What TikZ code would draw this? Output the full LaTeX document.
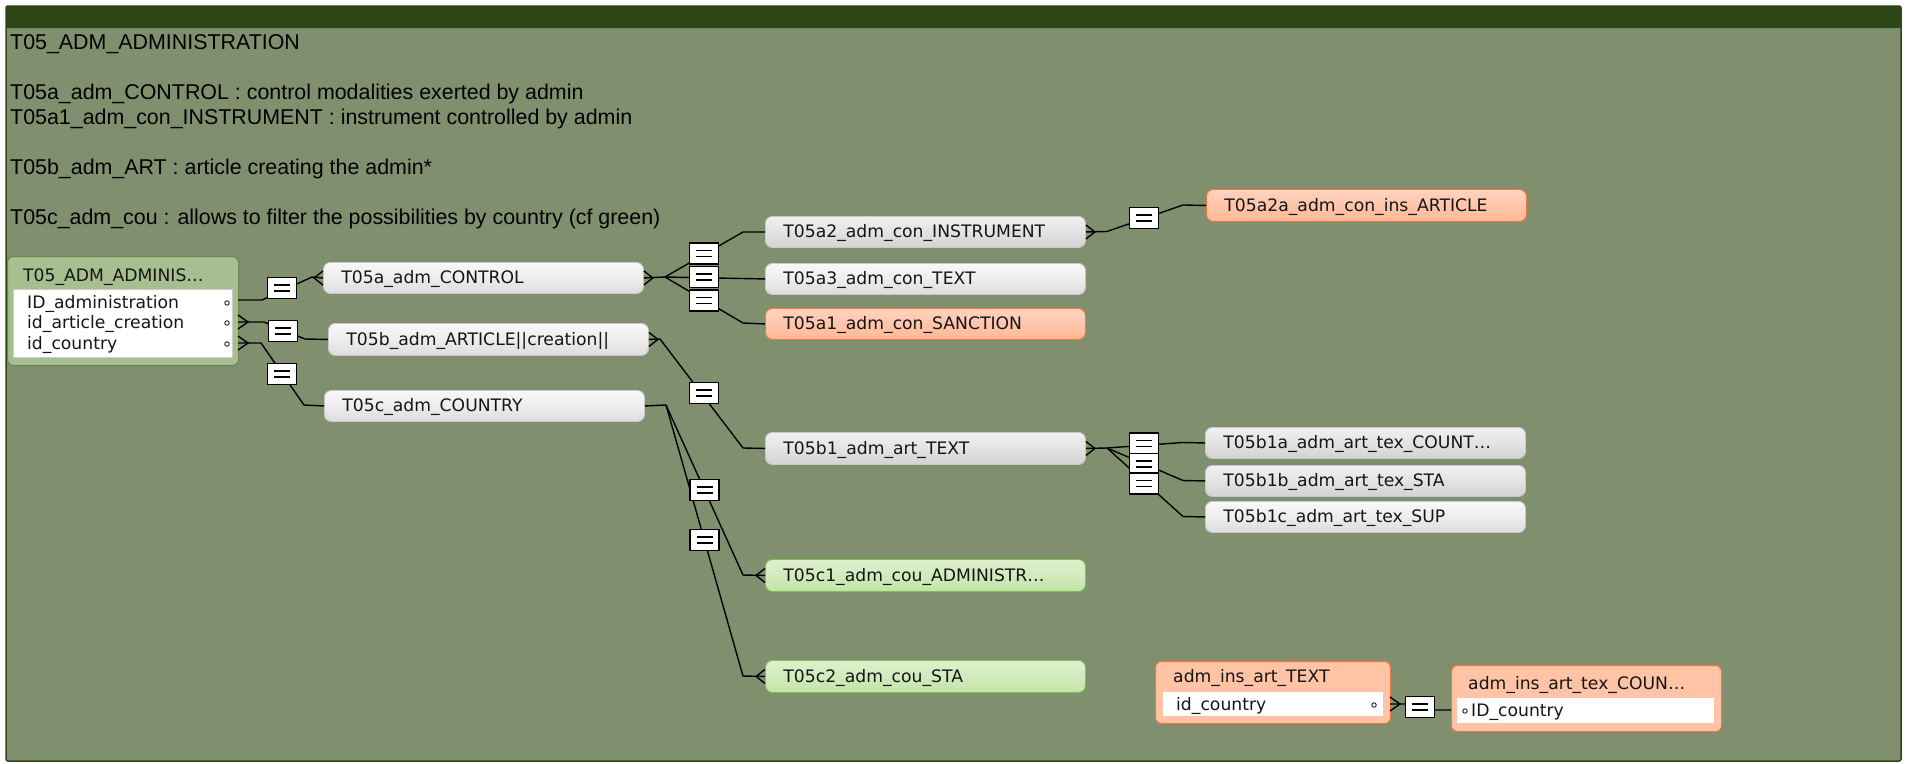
\documentclass[tikz,border=0pt]{standalone}
\usepackage{fontspec}
\setmainfont{Liberation Sans}
\newfontfamily\entfont{DejaVu Sans}
\definecolor{frameBg}{HTML}{80906F}
\definecolor{frameDk}{HTML}{2C4715}
\definecolor{greyTop}{HTML}{F8F8F8}
\definecolor{greyMid}{HTML}{EDEDED}
\definecolor{greyBot}{HTML}{DCDCDC}
\definecolor{greyTopB}{HTML}{F0F0F0}
\definecolor{greyMidB}{HTML}{E3E3E3}
\definecolor{greyBotB}{HTML}{D2D2D2}
\definecolor{greyLine}{HTML}{C8C8C8}
\definecolor{orTop}{HTML}{FFD3BF}
\definecolor{orMid}{HTML}{FFC5AA}
\definecolor{orBot}{HTML}{FFB896}
\definecolor{orLine}{HTML}{F2773E}
\definecolor{orFill}{HTML}{FFC3A6}
\definecolor{grTop}{HTML}{DDF0CD}
\definecolor{grMid}{HTML}{D1EBBC}
\definecolor{grBot}{HTML}{C3E3A8}
\definecolor{grLine}{HTML}{7FC04F}
\definecolor{admFill}{HTML}{A7BE90}
\definecolor{admLine}{HTML}{6A8752}
\definecolor{txtc}{HTML}{151515}
\newcommand\crowAt[2]{\draw[conn] ([yshift=7pt]#1) -- ([xshift=#2]#1) -- ([yshift=-7pt]#1);}
\begin{document}
\begin{tikzpicture}[x=1pt,y=-1pt,
  conn/.style={draw=black, line width=1.4pt},
  ent/.style={rounded corners=7pt, line width=0.9pt, anchor=north west,
    minimum width=320pt, minimum height=31pt, text width=284pt, inner xsep=18pt,
    inner ysep=0pt, align=left, text height=12pt, text depth=0pt, text=txtc,
    font=\entfont\fontsize{17.2}{20}\selectfont},
  greyent/.style={ent, top color=greyTop, bottom color=greyBot, middle color=greyMid, draw=greyLine},
  greyentB/.style={ent, top color=greyTopB, bottom color=greyBotB, middle color=greyMidB, draw=greyLine},
  orent/.style={ent, top color=orTop, bottom color=orBot, middle color=orMid, draw=orLine},
  grent/.style={ent, top color=grTop, bottom color=grBot, middle color=grMid, draw=grLine},
  tlabel/.style={anchor=base west, inner sep=0pt, text=txtc, font=\entfont\fontsize{17.2}{20}\selectfont},
  toptext/.style={anchor=base west, inner sep=0pt, text=black, font=\fontsize{21.4}{24.6}\selectfont},
  keydot/.style={circle, draw=black, line width=0.8pt, fill=white, inner sep=0pt, minimum size=4.5pt},
  eqbox/.style={draw=black, line width=1.2pt, fill=white, minimum width=29pt, minimum height=21pt, inner sep=0pt,
    path picture={\draw[line width=1.5pt]
      ([xshift=-8pt,yshift=3.2pt]path picture bounding box.center) -- ++(16pt,0pt)
      ([xshift=-8pt,yshift=-3.2pt]path picture bounding box.center) -- ++(16pt,0pt);}}
]
\useasboundingbox (0,0) rectangle (1910,763);
% frame
\draw[frameDk, line width=1.5pt, fill=frameBg, rounded corners=2pt] (6,6) rectangle (1901,761);
\fill[frameDk, rounded corners=2pt] (6,6) rectangle (1901,28);
% top texts
\node[toptext] (t1) at (10,49) {T05\_ADM\_ADMINISTRATION};
\node[toptext] (t2) at (10,99) {T05a\_adm\_CONTROL : control modalities exerted by admin};
\node[toptext] (t3) at (10,124) {T05a1\_adm\_con\_INSTRUMENT : instrument controlled by admin};
\node[toptext] (t4) at (10,174) {T05b\_adm\_ART : article creating the admin*};
\node[toptext] (t5) at (10,224) {T05c\_adm\_cou : allows to filter the possibilities by country (cf green)};
% admin table
\node[draw=admLine, fill=admFill, rounded corners=6pt, line width=1pt, anchor=north west,
  minimum width=231pt, minimum height=109pt, inner sep=0pt] (adm) at (7,256) {};
\node[draw=gray!40, fill=white, anchor=north west, minimum width=219pt, minimum height=68pt, inner sep=0pt] (admIn) at (13,289) {};
\node[tlabel] (admT) at (23,281) {T05\_ADM\_ADMINIS…};
\node[tlabel] (admR1t) at (27,308) {ID\_administration};
\node[tlabel] (admR2t) at (27,328) {id\_article\_creation};
\node[tlabel] (admR3t) at (27,349) {id\_country};
\node[keydot] (admD1) at (227,303) {};
\node[keydot] (admD2) at (227,323) {};
\node[keydot] (admD3) at (227,344) {};
\coordinate (admR1) at (238,300);
\coordinate (admR2) at (238,322);
\coordinate (admR3) at (238,343);
% entities
\node[greyent] (eCtrl) at (323,262) {T05a\_adm\_CONTROL};
\node[greyent, minimum height=32pt] (eArt) at (328,323) {T05b\_adm\_ARTICLE||creation||};
\node[greyent] (eCou) at (324,390) {T05c\_adm\_COUNTRY};
\node[greyentB] (eIns) at (765,216) {T05a2\_adm\_con\_INSTRUMENT};
\node[greyent] (eTxt) at (765,263) {T05a3\_adm\_con\_TEXT};
\node[orent] (eSan) at (765,308) {T05a1\_adm\_con\_SANCTION};
\node[orent, minimum height=32pt] (eInsArt) at (1206,189) {T05a2a\_adm\_con\_ins\_ARTICLE};
\node[greyentB, minimum height=32pt] (eBTxt) at (765,432) {T05b1\_adm\_art\_TEXT};
\node[greyentB] (eB1a) at (1205,427) {T05b1a\_adm\_art\_tex\_COUNT…};
\node[greyentB] (eB1b) at (1205,465) {T05b1b\_adm\_art\_tex\_STA};
\node[greyent] (eB1c) at (1205,501) {T05b1c\_adm\_art\_tex\_SUP};
\node[grent, minimum height=32pt] (eC1) at (765,559) {T05c1\_adm\_cou\_ADMINISTR…};
\node[grent, minimum height=32pt] (eC2) at (765,660) {T05c2\_adm\_cou\_STA};
% bottom tables
\node[draw=orLine, fill=orFill, rounded corners=6pt, line width=1pt, anchor=north west,
  minimum width=235pt, minimum height=62pt, inner sep=0pt] (tA) at (1155,661) {};
\node[fill=white, anchor=north west, minimum width=220pt, minimum height=24pt, inner sep=0pt] (tAin) at (1163,692) {};
\node[tlabel] (tAt) at (1173,682) {adm\_ins\_art\_TEXT};
\node[tlabel] (tAr) at (1176,710) {id\_country};
\node[keydot] (tAd) at (1374,705) {};
\coordinate (tAR) at (1390,704);
\node[draw=orLine, fill=orFill, rounded corners=6pt, line width=1pt, anchor=north west,
  minimum width=270pt, minimum height=66pt, inner sep=0pt] (tB) at (1451,665) {};
\node[fill=white, anchor=north west, minimum width=257pt, minimum height=25pt, inner sep=0pt] (tBin) at (1457,698) {};
\node[tlabel] (tBt) at (1468,689) {adm\_ins\_art\_tex\_COUN…};
\node[tlabel] (tBr) at (1471,716) {ID\_country};
\node[keydot] (tBd) at (1465,711) {};
\coordinate (tBL) at (1451,710);
% connectors
\draw[conn] (admR1) -- (262,300) -- (312,277) -- (eCtrl.west);
\crowAt{eCtrl.west}{-9pt}
\draw[conn] (admR2) -- (264,322) -- (305,339) -- (eArt.west);
\crowAt{admR2}{10pt}
\draw[conn] (admR3) -- (261,343) -- (304,405) -- (eCou.west);
\crowAt{admR3}{10pt}
\draw[conn] (eCtrl.east) -- (665,277) -- (743,232) -- (eIns.west);
\draw[conn] (665,277) -- (eTxt.west);
\draw[conn] (665,277) -- (743,323) -- (eSan.west);
\crowAt{eCtrl.east}{9pt}
\draw[conn] (eIns.east) -- (1107,231.5) -- (1183,205) -- (eInsArt.west);
\crowAt{eIns.east}{9pt}
\draw[conn] (eArt.east) -- (660,339) -- (743,448) -- (eBTxt.west);
\crowAt{eArt.east}{9pt}
\draw[conn] (eCou.east) -- (666,405) -- (743,575) -- (eC1.west);
\draw[conn] (666,405) -- (743,676) -- (eC2.west);
\crowAt{eC1.west}{-9pt}
\crowAt{eC2.west}{-9pt}
\draw[conn] (eBTxt.east) -- (1107,448) -- (1183,442.5) -- (eB1a.west);
\draw[conn] (1107,448) -- (1183,480.5) -- (eB1b.west);
\draw[conn] (1107,448) -- (1183,516.5) -- (eB1c.west);
\crowAt{eBTxt.east}{9pt}
\draw[conn] (tAR) -- (1406,704) -- (1435,710) -- (tBL);
\crowAt{tAR}{10pt}
% equal boxes
\node[eqbox] (q1) at (282,288) {};
\node[eqbox] (q2) at (283,331) {};
\node[eqbox] (q3) at (282,374) {};
\node[eqbox] (q4a) at (704,253.5) {};
\node[eqbox] (q4b) at (704,277) {};
\node[eqbox] (q4c) at (704,300.5) {};
\node[eqbox] (q5) at (1144,218) {};
\node[eqbox] (q6) at (704,393) {};
\node[eqbox] (q7a) at (704.5,490) {};
\node[eqbox] (q7b) at (704.5,540) {};
\node[eqbox] (q9a) at (1144,443.5) {};
\node[eqbox] (q9b) at (1144,464) {};
\node[eqbox] (q9c) at (1144,483.5) {};
\node[eqbox] (q8) at (1420,707) {};
\end{tikzpicture}
\end{document}
